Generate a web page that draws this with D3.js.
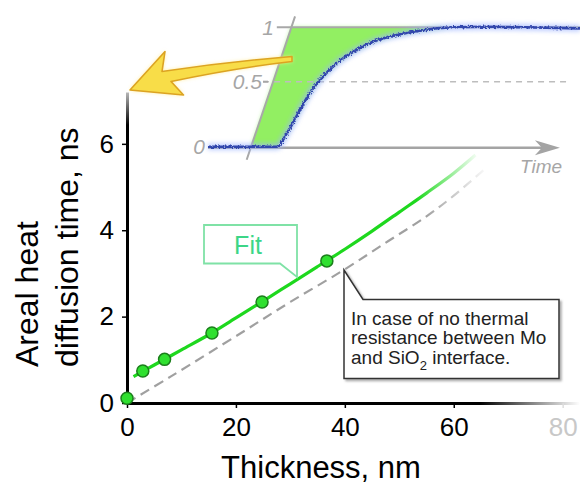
<!DOCTYPE html>
<html>
<head>
<meta charset="utf-8">
<script src="https://cdn.jsdelivr.net/npm/d3@7"></script>
<style>
  body { margin: 0; background: #fff; }
  svg { display: block; font-family: "Liberation Sans", Arial, sans-serif; }
</style>
</head>
<body>
<script>
// measured points (thickness nm, areal heat diffusion time ns)
const thickness = [0, 2.9, 6.9, 15.6, 24.8, 36.7];
const diffTime = [0.11, 0.74, 1.01, 1.62, 2.34, 3.29];

// fit curve
const fitX = [1.2, 5, 10, 15, 20, 25, 30, 35, 40, 45, 50, 55, 60, 64];
const fitY = [0.61, 0.88, 1.23, 1.58, 1.97, 2.36, 2.76, 3.16, 3.56, 3.98, 4.42, 4.86, 5.32, 5.74];

// "no thermal resistance" curve (dashed)
const idealX = [0, 8, 20.8, 30, 39.8, 48, 55, 60, 66];
const idealY = [0, 0.61, 1.61, 2.34, 3.08, 3.75, 4.32, 4.8, 5.45];

const xTicks = [0, 20, 40, 60, 80];
const yTicks = [0, 2, 4, 6];

// inset: normalised signal vs time (arbitrary units 0..100)
const sigT = [0, 10, 18.5, 21.2, 24.7, 27.9, 30.1, 34.6, 39.1, 44.4, 50.7, 57, 65.9, 74.9, 85, 100];
const sigV = [0, 0, 0, 0.103, 0.282, 0.436, 0.516, 0.669, 0.776, 0.868, 0.929, 0.969, 1.0, 1.005, 1.0, 0.99];
// slanted guide line
const slopeT = [10.4, 17.5, 23.4];
const slopeV = [-0.1, 0.5, 1.1];
const insetTicks = ["0", "0.5", "1"];

const W = 580, H = 488;

const svg = d3.select("body").append("svg")
  .attr("width", W)
  .attr("height", H);

const defs = svg.append("defs");

// gradients
function hGrad(id, x1, x2, stops) {
  const g = defs.append("linearGradient").attr("id", id)
    .attr("gradientUnits", "userSpaceOnUse")
    .attr("x1", x1).attr("x2", x2).attr("y1", 0).attr("y2", 0);
  stops.forEach(s => g.append("stop").attr("offset", s[0]).attr("stop-color", s[1]).attr("stop-opacity", s[2]));
}
hGrad("xfade", 127, 580, [[0, "#000", 1], [0.78, "#000", 1], [1, "#000", 0]]);
hGrad("fitfade", 127, 480, [[0, "#1ed81e", 1], [0.82, "#1ed81e", 1], [1, "#1ed81e", 0]]);
hGrad("dashfade", 127, 490, [[0, "#a0a0a0", 1], [0.82, "#a0a0a0", 1], [1, "#a0a0a0", 0]]);

const yg = defs.append("linearGradient").attr("id", "yfade")
  .attr("gradientUnits", "userSpaceOnUse")
  .attr("x1", 0).attr("x2", 0).attr("y1", 92).attr("y2", 125);
yg.append("stop").attr("offset", 0).attr("stop-color", "#bbb");
yg.append("stop").attr("offset", 1).attr("stop-color", "#000");

const glow = defs.append("filter").attr("id", "glow")
  .attr("x", "-20%").attr("y", "-20%").attr("width", "140%").attr("height", "140%");
glow.append("feGaussianBlur").attr("stdDeviation", 2);

const rough = defs.append("filter").attr("id", "rough")
  .attr("x", "-5%").attr("y", "-10%").attr("width", "110%").attr("height", "120%");
rough.append("feTurbulence").attr("type", "fractalNoise").attr("baseFrequency", 0.6)
  .attr("numOctaves", 2).attr("seed", 3).attr("result", "noise");
rough.append("feDisplacementMap").attr("in", "SourceGraphic").attr("in2", "noise")
  .attr("scale", 4).attr("xChannelSelector", "R").attr("yChannelSelector", "G");

const shadow = defs.append("filter").attr("id", "shadow")
  .attr("x", "-10%").attr("y", "-10%").attr("width", "130%").attr("height", "130%");
shadow.append("feDropShadow").attr("dx", 2).attr("dy", 2).attr("stdDeviation", 1.2)
  .attr("flood-color", "#888").attr("flood-opacity", 0.7);

// scales
const x = d3.scaleLinear().domain([0, 83]).range([127, 579]);
const y = d3.scaleLinear().domain([0, 7.2]).range([403, 92]);

// ---------- inset (drawn first, main chart over it) ----------
const tx = d3.scaleLinear().domain([0, 100]).range([208, 580]);
const tv = d3.scaleLinear().domain([0, 0.5, 1]).range([146.7, 81.7, 27.3]);

const inset = svg.append("g").attr("class", "inset");

const sig = sigT.map((t, i) => [t, sigV[i]]);
const slope = slopeT.map((t, i) => [t, slopeV[i]]);

// green area between the slanted line and the signal
const lineT = d3.line().x(d => tx(d[0])).y(d => tv(d[1]));
const riseEnd = sig.findIndex(d => d[1] >= 1);
const riseStart = sig.findIndex(d => d[1] > 0) - 1;
const fillPts = [[11.6, 0], [17.5, 0.5], [22.4, 1]]
  .concat(sig.slice(riseStart, riseEnd + 1).reverse());

inset.append("path")
  .attr("d", lineT(fillPts) + "Z")
  .attr("fill", "#9cf27a")
  .attr("filter", "url(#glow)")
  .attr("opacity", 0.8);
inset.append("path")
  .attr("d", lineT(fillPts) + "Z")
  .attr("fill", "#92ef62");

// level 1 line
inset.append("line")
  .attr("x1", tx(18.5)).attr("x2", tx(100))
  .attr("y1", tv(1)).attr("y2", tv(1))
  .attr("stroke", "#a8a8a8").attr("stroke-width", 2);

// level 0.5 dashed
inset.append("line")
  .attr("x1", tx(14.8)).attr("x2", tx(97.3))
  .attr("y1", tv(0.5)).attr("y2", tv(0.5))
  .attr("stroke", "#bdbdbd").attr("stroke-width", 1.5)
  .attr("stroke-dasharray", "6,5");

// time axis with arrow
inset.append("line")
  .attr("x1", tx(0)).attr("x2", tx(90))
  .attr("y1", tv(0) + 1).attr("y2", tv(0) + 1)
  .attr("stroke", "#a4a4a4").attr("stroke-width", 2.5);
const tip = [tx(94.6), tv(0) + 1];
inset.append("path")
  .attr("d", `M${tip[0]},${tip[1]} L${tip[0] - 25},${tip[1] - 7.5} L${tip[0] - 18},${tip[1]} L${tip[0] - 25},${tip[1] + 7.5} Z`)
  .attr("fill", "#a4a4a4");

inset.append("text")
  .attr("x", 541).attr("y", 173)
  .attr("text-anchor", "middle")
  .attr("font-size", 19).attr("font-style", "italic")
  .attr("fill", "#a6a6a6")
  .text("Time");

// slanted guide
inset.append("path")
  .attr("d", lineT(slope))
  .attr("fill", "none")
  .attr("stroke", "#a8a8a8").attr("stroke-width", 2);

// signal
const sigLine = d3.line().x(d => tx(d[0])).y(d => tv(d[1])).curve(d3.curveMonotoneX);
inset.append("path")
  .attr("d", sigLine(sig))
  .attr("fill", "none")
  .attr("stroke", "#9db4ff").attr("stroke-width", 7)
  .attr("opacity", 0.6)
  .attr("filter", "url(#glow)");
inset.append("path")
  .attr("d", sigLine(sig))
  .attr("fill", "none")
  .attr("stroke", "#3346ad").attr("stroke-width", 2.6)
  .attr("filter", "url(#rough)");

// inset tick labels
const insetLabelX = { "0": 205, "0.5": 262, "1": 274 };
inset.selectAll(".itick")
  .data(insetTicks)
  .enter().append("text")
  .attr("class", "itick")
  .attr("x", d => insetLabelX[d])
  .attr("y", d => tv(+d))
  .attr("dy", "0.36em")
  .attr("text-anchor", "end")
  .attr("font-size", 21).attr("font-style", "italic")
  .attr("fill", "#a6a6a6")
  .text(d => d);
inset.append("line")
  .attr("x1", 263).attr("x2", 268)
  .attr("y1", tv(0.5)).attr("y2", tv(0.5))
  .attr("stroke", "#a6a6a6").attr("stroke-width", 2);

// yellow arrow
const arrow = "M130,90 L165,51.5 L162,71.5 Q225,62 292,56.5 L292,61.5 Q235,68 171,81.5 L183.5,95 Z";
svg.append("path")
  .attr("d", arrow)
  .attr("fill", "#ffe98a")
  .attr("filter", "url(#glow)");
svg.append("path")
  .attr("d", arrow)
  .attr("fill", "#f8dd48")
  .attr("stroke", "#dca322")
  .attr("stroke-width", 1.6)
  .attr("stroke-linejoin", "round");

// ---------- main chart ----------
const xAxis = svg.append("g")
  .attr("transform", "translate(0,403)")
  .call(d3.axisBottom(x).tickValues(xTicks).tickSizeInner(5).tickSizeOuter(0).tickPadding(10));
xAxis.select(".domain").attr("stroke", "url(#xfade)").attr("stroke-width", 3);
xAxis.selectAll(".tick line").attr("stroke", d => d === 80 ? "#ddd" : "#000").attr("stroke-width", 1.5);
xAxis.selectAll(".tick text")
  .attr("font-size", 26)
  .attr("font-family", "'Liberation Sans', Arial, sans-serif")
  .attr("fill", d => d === 80 ? "#c8c8c8" : "#000");

const yAxis = svg.append("g")
  .attr("transform", "translate(127,0)")
  .call(d3.axisLeft(y).tickValues(yTicks).tickSizeInner(5).tickSizeOuter(0).tickPadding(8));
yAxis.select(".domain").attr("stroke", "url(#yfade)").attr("stroke-width", 3);
yAxis.selectAll(".tick line").attr("stroke", "#000").attr("stroke-width", 1.5);
yAxis.selectAll(".tick text")
  .attr("font-size", 26)
  .attr("font-family", "'Liberation Sans', Arial, sans-serif")
  .attr("fill", "#000");

// axis titles
svg.append("text")
  .attr("x", 321).attr("y", 478)
  .attr("text-anchor", "middle")
  .attr("font-size", 31)
  .attr("fill", "#000")
  .text("Thickness, nm");

const yTitle = svg.append("text")
  .attr("transform", "translate(38,367) rotate(-90)")
  .attr("font-size", 32)
  .attr("fill", "#000");
yTitle.append("tspan").attr("x", 0).attr("y", 0).text("Areal heat");
yTitle.append("tspan").attr("x", 0).attr("y", 40).text("diffusion time, ns");

// dashed ideal line
const line = d3.line().x(d => x(d[0])).y(d => y(d[1])).curve(d3.curveCatmullRom);
svg.append("path")
  .attr("d", line(idealX.map((v, i) => [v, idealY[i]])))
  .attr("fill", "none")
  .attr("stroke", "url(#dashfade)")
  .attr("stroke-width", 2.2)
  .attr("stroke-dasharray", "10,6");

// fit line
svg.append("path")
  .attr("d", line(fitX.map((v, i) => [v, fitY[i]])))
  .attr("fill", "none")
  .attr("stroke", "url(#fitfade)")
  .attr("stroke-width", 3.2);

// data points
svg.selectAll(".pt")
  .data(thickness.map((v, i) => [v, diffTime[i]]))
  .enter().append("circle")
  .attr("class", "pt")
  .attr("cx", d => x(d[0]))
  .attr("cy", d => y(d[1]))
  .attr("r", 6)
  .attr("fill", "#2fe02f")
  .attr("stroke", "#1b7f1b")
  .attr("stroke-width", 1.5);

// "Fit" callout
svg.append("path")
  .attr("d", "M204,225 H297 V277 L280,263.5 H204 Z")
  .attr("fill", "#fff")
  .attr("stroke", "#7fe2a6")
  .attr("stroke-width", 1.8);
svg.append("text")
  .attr("x", 248).attr("y", 254)
  .attr("text-anchor", "middle")
  .attr("font-size", 25)
  .attr("fill", "#3cd687")
  .text("Fit");

// note callout
svg.append("path")
  .attr("d", "M344,270 L363,299.5 H559 V378.5 H344 Z")
  .attr("fill", "#fff")
  .attr("stroke", "#333")
  .attr("stroke-width", 1.5)
  .attr("filter", "url(#shadow)");

const note = svg.append("text")
  .attr("font-size", 19)
  .attr("fill", "#222");
note.append("tspan").attr("x", 351).attr("y", 324.5).text("In case of no thermal");
note.append("tspan").attr("x", 351).attr("y", 344).text("resistance between Mo");
note.append("tspan").attr("x", 351).attr("y", 363.5).text("and SiO");
note.append("tspan").attr("dy", 6).attr("font-size", 13).text("2");
note.append("tspan").attr("dy", -6).text(" interface.");
</script>
</body>
</html>
